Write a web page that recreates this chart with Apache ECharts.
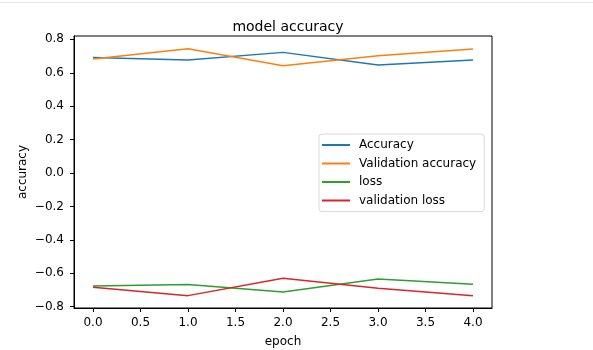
<!DOCTYPE html>
<html>
<head>
<meta charset="utf-8">
<script src="https://cdn.jsdelivr.net/npm/echarts@6/dist/echarts.min.js"></script>
<style>
  html, body { margin: 0; padding: 0; background: #fff; }
  #chart { width: 593px; height: 350px; }
</style>
</head>
<body>
<div id="chart"></div>
<script>
// values
const epochs = [0, 1, 2, 3, 4];
const accuracy = [0.692, 0.676, 0.722, 0.646, 0.676];
const valAccuracy = [0.682, 0.744, 0.642, 0.702, 0.742];
const loss = [-0.676, -0.668, -0.712, -0.634, -0.666];
const valLoss = [-0.684, -0.734, -0.63, -0.69, -0.734];

const xTicks = [0, 0.5, 1, 1.5, 2, 2.5, 3, 3.5, 4];
const yTicks = [-0.8, -0.6, -0.4, -0.2, 0, 0.2, 0.4, 0.6, 0.8];

const FONT = "DejaVu Sans";
const pairs = ys => epochs.map((e, i) => [e, ys[i]]);
const fmt = v => v.toFixed(1).replace("-", "\u2212");

const mkSeries = (name, ys, color) => ({
  name: name,
  type: "line",
  data: pairs(ys),
  symbol: "none",
  lineStyle: { color: color, width: 1.5 },
  itemStyle: { color: color },
  animation: false
});

const chart = echarts.init(document.getElementById("chart"));
chart.setOption({
  backgroundColor: "#fff",
  title: {
    text: "model accuracy",
    left: 283,
    top: 15,
    textAlign: "center",
    textStyle: { fontFamily: FONT, fontSize: 14, fontWeight: "normal", color: "#000" }
  },
  grid: {
    left: 74, top: 36, right: 101, bottom: 42,
    outerBoundsMode: "none",
    show: true, borderColor: "#000", borderWidth: 1
  },
  legend: {
    orient: "vertical",
    left: 319, top: 134,
    width: 166,
    padding: [5, 8, 5, 3],
    backgroundColor: "#fff",
    borderColor: "#d9d9d9",
    borderWidth: 1,
    borderRadius: 3,
    itemWidth: 28,
    itemHeight: 2,
    itemGap: 6.5,
    icon: "rect",
    textStyle: { fontFamily: FONT, fontSize: 12, color: "#000", padding: [0, 0, 0, 4] },
    data: ["Accuracy", "Validation accuracy", "loss", "validation loss"]
  },
  xAxis: {
    type: "value",
    min: -0.2, max: 4.2,
    name: "epoch",
    nameLocation: "middle",
    nameGap: 28,
    nameTextStyle: { fontFamily: FONT, fontSize: 12, color: "#000" },
    axisLine: { show: true, onZero: false, lineStyle: { color: "#000", width: 1 } },
    axisTick: { show: true, inside: false, length: 4, customValues: xTicks, lineStyle: { color: "#000" } },
    axisLabel: { customValues: xTicks, formatter: fmt, margin: 9, fontFamily: FONT, fontSize: 12, color: "#000" },
    splitLine: { show: false }
  },
  yAxis: {
    type: "value",
    min: -0.808, max: 0.82,
    name: "accuracy",
    nameLocation: "middle",
    nameGap: 45,
    nameMoveOverlap: false,
    nameTextStyle: { fontFamily: FONT, fontSize: 12, color: "#000" },
    axisLine: { show: true, onZero: false, lineStyle: { color: "#000", width: 1 } },
    axisTick: { show: true, inside: false, length: 4, customValues: yTicks, lineStyle: { color: "#000" } },
    axisLabel: { customValues: yTicks, formatter: fmt, margin: 10, fontFamily: FONT, fontSize: 12, color: "#000" },
    splitLine: { show: false }
  },
  graphic: [{
    type: "line",
    shape: { x1: 0, y1: 2.5, x2: 593, y2: 2.5 },
    style: { stroke: "#e4e4e4", lineWidth: 1 }
  }],
  series: [
    mkSeries("Accuracy", accuracy, "#1f77b4"),
    mkSeries("Validation accuracy", valAccuracy, "#ff7f0e"),
    mkSeries("loss", loss, "#2ca02c"),
    mkSeries("validation loss", valLoss, "#d62728")
  ]
});
</script>
</body>
</html>
